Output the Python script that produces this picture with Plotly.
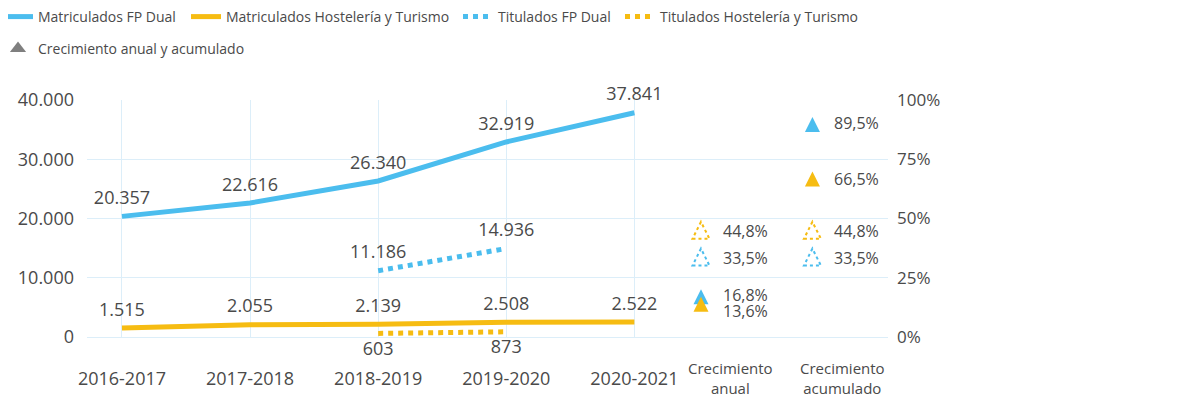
import plotly.graph_objects as go

# -----------------------------
# Data
# -----------------------------
cursos = ["2016-2017", "2017-2018", "2018-2019", "2019-2020", "2020-2021"]
matriculados_fp_dual = [20357, 22616, 26340, 32919, 37841]
matriculados_hosteleria = [1515, 2055, 2139, 2508, 2522]
titulados_fp_dual = [None, None, 11186, 14936, None]
titulados_hosteleria = [None, None, 603, 873, None]

# growth (%) -> [anual, acumulado]
columnas_crecimiento = ["Crecimiento<br>anual", "Crecimiento<br>acumulado"]
crec_matric_fp_dual = [16.8, 89.5]
crec_matric_hosteleria = [13.6, 66.5]
crec_titul_fp_dual = [33.5, 33.5]
crec_titul_hosteleria = [44.8, 44.8]

pct_ticks = [0, 25, 50, 75, 100]

# -----------------------------
# Style
# -----------------------------
AZUL = "#4BBDEE"
AMARILLO = "#F6BC12"
GRIS = "#7F7F7F"
TEXTO = "#4A4A4A"
GRID = "#DCEEF9"
FONT = "Open Sans"

# page has an 8px body margin -> figure is 1164x389 inside the 1180x405 window
W, H = 1164, 389
ML, MR, MT, MB = 79, 284, 92, 60
PW, PH = W - ML - MR, H - MT - MB
x_idx = list(range(len(cursos)))
COL_TRI_X = [4.52, 5.39]      # triangle column positions on the x axis
COL_LABEL_X = [4.75, 5.625]   # column caption positions


def px_x(page_x):
    # page pixel -> plot-area (paper) fraction
    return (page_x - 8 - ML) / PW


def px_y(page_y):
    return 1 - (page_y - 8 - MT) / PH


fig = go.Figure()


def add_line(y, name, color, dash, textpos, legend):
    fig.add_trace(go.Scatter(
        x=x_idx, y=y, name=name,
        mode="lines+markers+text",
        line=dict(color=color, width=5, dash=dash),
        marker=dict(size=11, color="rgba(0,0,0,0)"),
        texttemplate="%{y:,.0f}",
        textposition=textpos,
        textfont=dict(size=18, color=TEXTO, family=FONT),
        cliponaxis=False,
        legend=legend,
    ))


add_line(matriculados_fp_dual, "Matriculados FP Dual", AZUL, "solid", "top center", "legend")
add_line(matriculados_hosteleria, "Matriculados Hostelería y Turismo", AMARILLO, "solid", "top center", "legend2")
add_line(titulados_fp_dual, "Titulados FP Dual", AZUL, "dot", "top center", "legend3")
add_line(titulados_hosteleria, "Titulados Hostelería y Turismo", AMARILLO, "dot", "bottom center", "legend4")

# legend-only entry for the growth triangles
fig.add_trace(go.Scatter(
    x=[None], y=[None], name="Crecimiento anual y acumulado",
    mode="markers",
    marker=dict(symbol="triangle-up", size=14, color=GRIS),
    legend="legend5", yaxis="y2",
))

# growth triangles (anchored on the right % axis) + labels
FILLED = "M-7.5,-7 L7.5,-7 L0,8 Z"
OPEN = "M-8.5,-8 L8.5,-8 L0,9 Z"
series = [
    (crec_matric_fp_dual, AZUL, True, [2, 2]),
    (crec_matric_hosteleria, AMARILLO, True, [-6, 0]),
    (crec_titul_fp_dual, AZUL, False, [0, 0]),
    (crec_titul_hosteleria, AMARILLO, False, [0, 0]),
]
for vals, color, filled, yshifts in series:
    for j, v in enumerate(vals):
        shape = dict(
            type="path", xref="x", yref="y2",
            xsizemode="pixel", ysizemode="pixel",
            xanchor=COL_TRI_X[j], yanchor=v,
            layer="above",
        )
        if filled:
            shape.update(path=FILLED, fillcolor=color, line=dict(width=0))
        else:
            shape.update(path=OPEN, fillcolor="rgba(0,0,0,0)",
                         line=dict(color=color, width=2, dash="dot"))
        fig.add_shape(**shape)
        fig.add_annotation(
            x=COL_TRI_X[j], y=v, xref="x", yref="y2",
            text=f"{v:.1f}%".replace(".", ","),
            showarrow=False, xanchor="left", yanchor="middle",
            xshift=20, yshift=yshifts[j],
            font=dict(size=16, color=TEXTO, family=FONT),
        )

for j, lab in enumerate(columnas_crecimiento):
    fig.add_annotation(
        x=COL_LABEL_X[j], y=px_y(378), xref="x", yref="paper",
        text=lab, showarrow=False, xanchor="center", yanchor="middle",
        font=dict(size=15, color=TEXTO, family=FONT),
    )

# -----------------------------
# Layout
# -----------------------------
legend_base = dict(
    orientation="h", xref="paper", yref="paper",
    xanchor="left", yanchor="middle",
    font=dict(size=14, color=TEXTO, family=FONT),
)
row1, row2 = px_y(17), px_y(49)

fig.update_layout(
    width=W, height=H,
    margin=dict(l=ML, r=MR, t=MT, b=MB, autoexpand=False),
    plot_bgcolor="white", paper_bgcolor="white",
    separators=",.",
    font=dict(family=FONT, color=TEXTO, size=18),
    xaxis=dict(
        range=[-0.273, 5.98], tickvals=x_idx, ticktext=cursos,
        showgrid=True, gridcolor=GRID, zeroline=False, showline=False,
        ticklabelstandoff=29, tickfont=dict(size=18, color=TEXTO),
    ),
    yaxis=dict(
        range=[0, 40000], tickvals=[0, 10000, 20000, 30000, 40000],
        tickformat=",.0f", showgrid=True, gridcolor=GRID,
        zeroline=True, zerolinecolor=GRID, zerolinewidth=1,
        ticklabelstandoff=12, tickfont=dict(size=18, color=TEXTO),
    ),
    yaxis2=dict(
        overlaying="y", side="right", range=[0, 100],
        tickmode="array", tickvals=pct_ticks,
        ticktext=[f"{v}%" for v in pct_ticks],
        showgrid=False, zeroline=False,
        ticklabelstandoff=8, tickfont=dict(size=17, color=TEXTO),
    ),
    legend=dict(legend_base, x=px_x(-2), y=row1),
    legend2=dict(legend_base, x=px_x(186), y=row1),
    legend3=dict(legend_base, x=px_x(458), y=row1),
    legend4=dict(legend_base, x=px_x(620), y=row1),
    legend5=dict(legend_base, x=px_x(-2), y=row2),
    showlegend=True,
)

fig.write_html("out.html")
